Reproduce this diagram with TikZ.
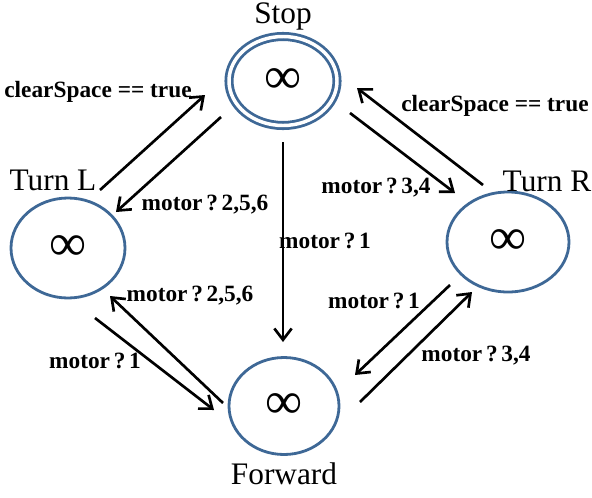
\documentclass[tikz,border=0pt]{standalone}
\usepackage{fontspec}
\setmainfont{Liberation Serif}
\usetikzlibrary{shapes.geometric,arrows.meta}
\definecolor{stateblue}{RGB}{62,104,150}
\newcommand{\qs}{\hspace{0.16em}}
\tikzset{
  state/.style={ellipse,draw=stateblue,line width=2.1pt,inner sep=0pt,font=\fontsize{39}{39}\selectfont},
  statename/.style={font=\fontsize{23.5}{25}\selectfont,inner sep=0pt},
  lbl/.style={font=\bfseries\fontsize{17.5}{19}\selectfont,inner sep=0pt},
  arr/.style={line width=2pt,-{Straight Barb[length=8.5pt,width=13pt,line width=2pt]}}
}
\begin{document}
\begin{tikzpicture}[x=0.75pt,y=-0.75pt]
\useasboundingbox (0,0) rectangle (592,497);
% states
\node[state,double=white,double distance=2.6pt,minimum width=108*0.75pt,minimum height=89*0.75pt] (stop) at (283,81) {∞};
\node[state,minimum width=114*0.75pt,minimum height=100*0.75pt] (turnl) at (68,248) {∞};
\node[state,minimum width=122*0.75pt,minimum height=100*0.75pt] (turnr) at (508,242) {∞};
\node[state,minimum width=110*0.75pt,minimum height=97*0.75pt] (fwd) at (284,406) {∞};
% state names
\node[statename] (nstop) at (283,16) {Stop};
\node[statename] (nturnl) at (53,180) {Turn L};
\node[statename] (nturnr) at (547,181) {Turn R};
\node[statename] (nfwd) at (284,474) {Forward};
% connector endpoints
\coordinate (a1) at (100,190); \coordinate (a2) at (205,95);
\coordinate (b1) at (221,117); \coordinate (b2) at (116,212);
\coordinate (c1) at (350,113); \coordinate (c2) at (455,193);
\coordinate (d1) at (483,185); \coordinate (d2) at (357,88);
\coordinate (e1) at (283,142); \coordinate (e2) at (283,342);
\coordinate (f1) at (223,403); \coordinate (f2) at (110,296);
\coordinate (g1) at (95,318); \coordinate (g2) at (214,410);
\coordinate (h1) at (450,285); \coordinate (h2) at (355,375);
\coordinate (i1) at (360,402); \coordinate (i2) at (472,292);
\draw[arr] (a1) -- (a2);
\draw[arr] (b1) -- (b2);
\draw[arr] (c1) -- (c2);
\draw[arr] (d1) -- (d2);
\draw[arr] (e1) -- (e2);
\draw[arr] (f1) -- (f2);
\draw[arr] (g1) -- (g2);
\draw[arr] (h1) -- (h2);
\draw[arr] (i1) -- (i2);
% labels
\node[lbl] (la) at (98,92) {clearSpace == true};
\node[lbl] (lb) at (205,205) {motor\qs?\qs2,5,6};
\node[lbl] (lc) at (376,188) {motor\qs?\qs3,4};
\node[lbl] (ld) at (495,106) {clearSpace == true};
\node[lbl] (le) at (325,241) {motor\qs?\qs1};
\node[lbl] (lf) at (190,296) {motor\qs?\qs2,5,6};
\node[lbl] (lg) at (95,361) {motor\qs?\qs1};
\node[lbl] (lh) at (374,301) {motor\qs?\qs1};
\node[lbl] (li) at (476,356) {motor\qs?\qs3,4};
\end{tikzpicture}
\end{document}
